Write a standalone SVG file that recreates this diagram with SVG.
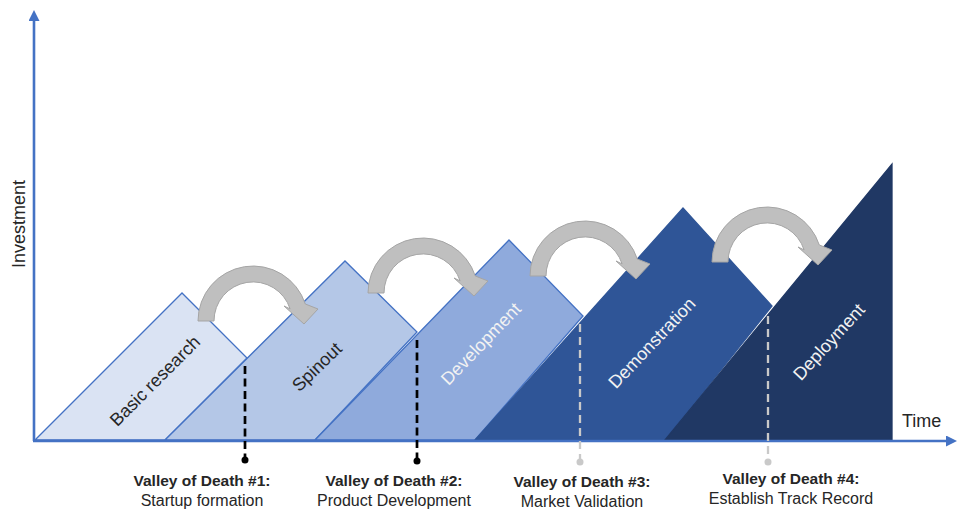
<svg xmlns="http://www.w3.org/2000/svg" width="957" height="510" viewBox="0 0 957 510">
  <defs>
    <style>
      .stage { stroke-width: 1.3; stroke-linejoin: miter; }
      .light { stroke: #4472c4; }
      .stage-label { font-family: "Liberation Sans", Arial, sans-serif; font-size: 18px; text-anchor: middle; dominant-baseline: central; }
      .dark-text { fill: #262626; }
      .white-text { fill: #f2f2f2; }
      .hop { fill: #bfbfbf; stroke: #a5a5a5; stroke-width: 1; stroke-linejoin: miter; }
      .axis { stroke: #4472c4; stroke-width: 2.6; fill: none; }
      .axis-label { font-family: "Liberation Sans", Arial, sans-serif; font-size: 18px; fill: #262626; }
      .vod-black { stroke: #000000; stroke-width: 2.7; stroke-dasharray: 8 4.5; fill: none; }
      .vod-grey { stroke: #c9c9c9; stroke-width: 2.3; stroke-dasharray: 8 5; fill: none; }
      .dot-black { fill: #000000; }
      .dot-grey { fill: #c9c9c9; }
      .vod-title { font-family: "Liberation Sans", Arial, sans-serif; font-size: 15.5px; font-weight: bold; fill: #262626; text-anchor: middle; }
      .vod-sub { font-family: "Liberation Sans", Arial, sans-serif; font-size: 16px; fill: #262626; text-anchor: middle; }
    </style>
    <marker id="axisHead" viewBox="0 0 11 11" refX="0" refY="5.5" markerWidth="11" markerHeight="11" markerUnits="userSpaceOnUse" orient="auto">
      <path d="M0,0 L11,5.5 L0,11 Z" fill="#4472c4"/>
    </marker>
    <!-- curved hop arrow, centred on the middle of its arc -->
    <path id="hopArrow" d="M -55 0 A 55 55 0 0 1 52.3 -17 L 65 -12 L 51 3 L 31 -15 L 37.1 -12.1 A 39 39 0 0 0 -39 0 Z"/>
  </defs>

  <rect x="0" y="0" width="957" height="510" fill="#ffffff"/>

  <!-- stages, drawn left to right so each overlaps the previous one -->
  <g id="stage-basic-research">
    <polygon class="stage light" fill="#dae3f3" points="35,440 182,293 247,358 165,440"/>
    <text class="stage-label dark-text" transform="translate(155,381) rotate(-45)">Basic research</text>
  </g>
  <g id="stage-spinout">
    <polygon class="stage light" fill="#b4c7e7" points="165,440 345,261 417,332 315,440"/>
    <text class="stage-label dark-text" transform="translate(317,367) rotate(-44)">Spinout</text>
  </g>
  <g id="stage-development">
    <polygon class="stage light" fill="#8faadc" points="315,440 509,240 583,316 475,440"/>
    <text class="stage-label white-text" transform="translate(481,344) rotate(-46)">Development</text>
  </g>
  <g id="stage-demonstration">
    <polygon class="stage" fill="#2f5597" stroke="#2f5597" points="475,440 683,208 772,306 665,440"/>
    <text class="stage-label white-text" transform="translate(652,343) rotate(-46.5)">Demonstration</text>
  </g>
  <g id="stage-deployment">
    <polygon class="stage" fill="#203864" stroke="#203864" points="665,440 892,164 892,440"/>
    <text class="stage-label white-text" transform="translate(829,342) rotate(-47.5)">Deployment</text>
  </g>

  <!-- hop arrows between stages -->
  <g id="connectors">
    <use href="#hopArrow" class="hop" transform="translate(253,321)"/>
    <use href="#hopArrow" class="hop" transform="translate(423,293)"/>
    <use href="#hopArrow" class="hop" transform="translate(585,276)"/>
    <use href="#hopArrow" class="hop" transform="translate(767,262)"/>
  </g>

  <!-- axes -->
  <g id="axes">
    <line class="axis" x1="34" y1="441" x2="34" y2="21" marker-end="url(#axisHead)"/>
    <line class="axis" x1="33" y1="441" x2="946" y2="441" marker-end="url(#axisHead)"/>
    <text class="axis-label" transform="translate(24.5,224) rotate(-90)" text-anchor="middle">Investment</text>
    <text class="axis-label" x="902" y="427">Time</text>
  </g>

  <!-- valleys of death -->
  <g id="valley-1">
    <line class="vod-black" x1="245" y1="366" x2="245" y2="458"/>
    <circle class="dot-black" cx="245" cy="460" r="3.5"/>
    <text class="vod-title" x="202" y="486">Valley of Death #1:</text>
    <text class="vod-sub" x="202" y="506">Startup formation</text>
  </g>
  <g id="valley-2">
    <line class="vod-black" x1="417" y1="340" x2="417" y2="459"/>
    <circle class="dot-black" cx="417" cy="461" r="3.5"/>
    <text class="vod-title" x="394" y="486">Valley of Death #2:</text>
    <text class="vod-sub" x="394" y="506">Product Development</text>
  </g>
  <g id="valley-3">
    <line class="vod-grey" x1="580" y1="324" x2="580" y2="460"/>
    <circle class="dot-grey" cx="580" cy="462" r="3.5"/>
    <text class="vod-title" x="582" y="487">Valley of Death #3:</text>
    <text class="vod-sub" x="582" y="507">Market Validation</text>
  </g>
  <g id="valley-4">
    <line class="vod-grey" x1="768" y1="316" x2="768" y2="460"/>
    <circle class="dot-grey" cx="768" cy="462" r="3.5"/>
    <text class="vod-title" x="791" y="484">Valley of Death #4:</text>
    <text class="vod-sub" x="791" y="504">Establish Track Record</text>
  </g>
</svg>
